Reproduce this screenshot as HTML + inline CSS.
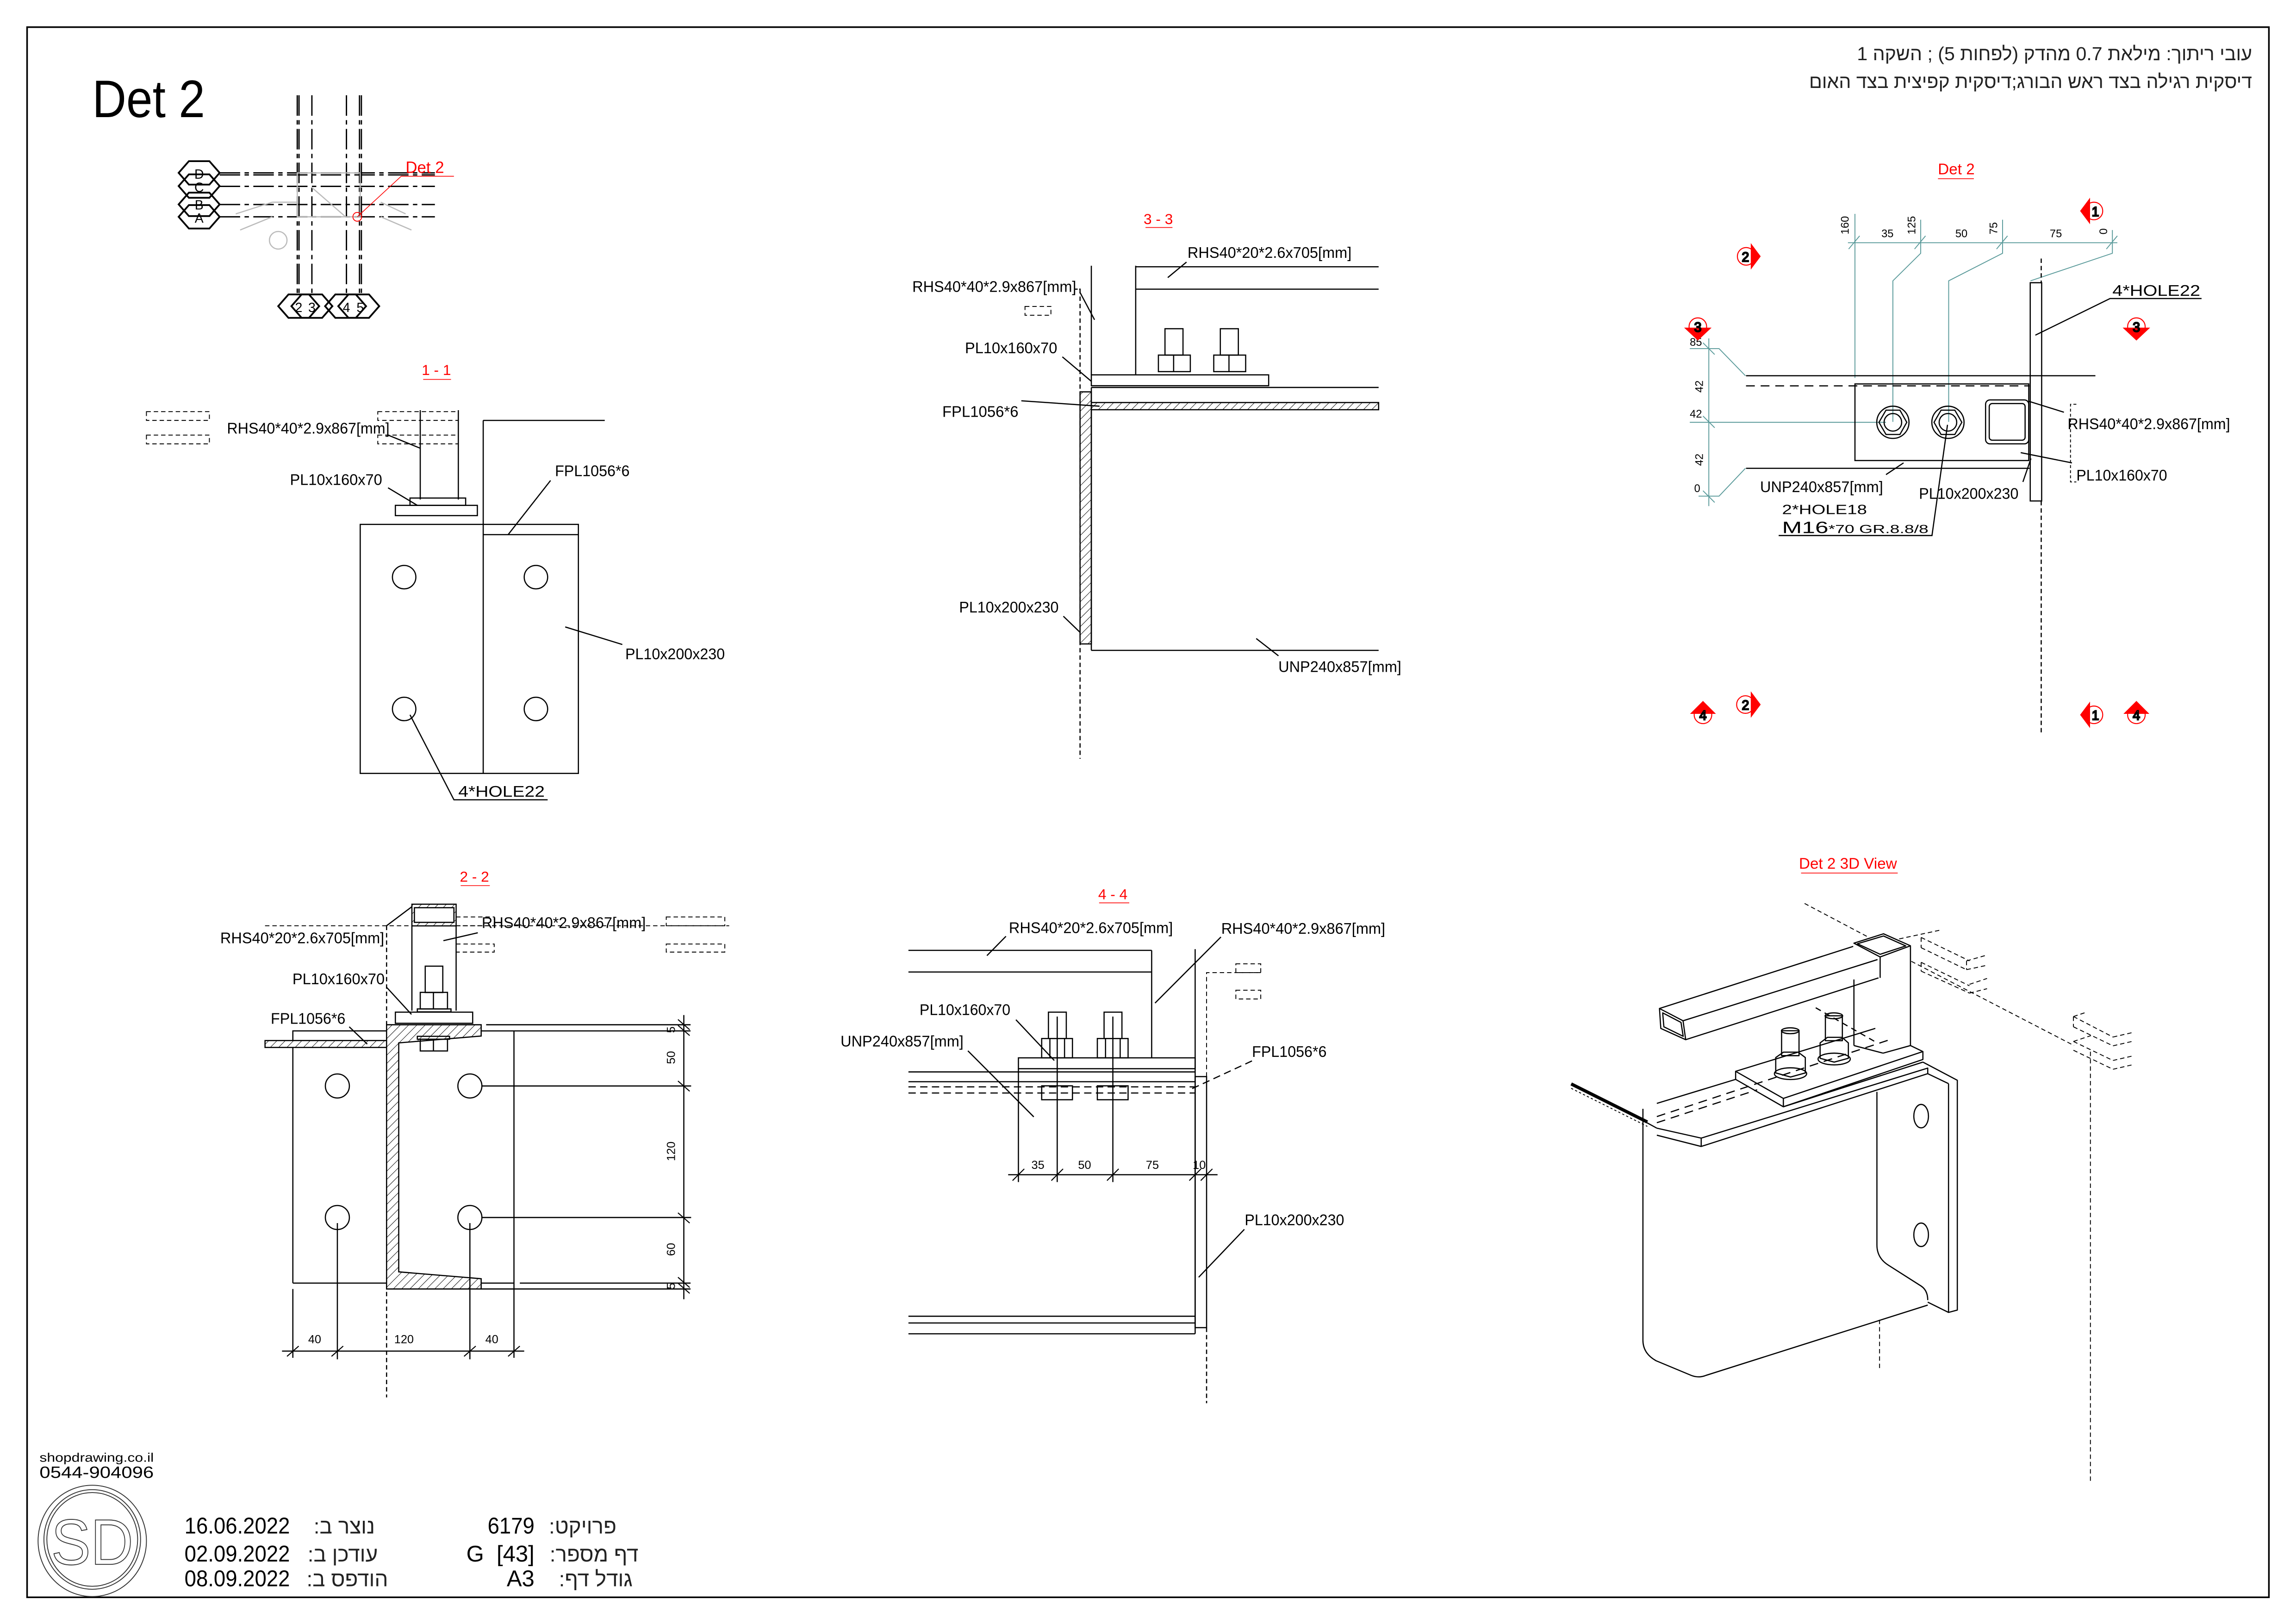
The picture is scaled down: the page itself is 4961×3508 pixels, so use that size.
<!DOCTYPE html>
<html><head><meta charset="utf-8"><style>
html,body{margin:0;padding:0;background:#fff;}
svg{display:block;}
text{font-family:"Liberation Sans","Noto Sans CJK JP",sans-serif;}
</style></head><body>
<svg xmlns="http://www.w3.org/2000/svg" width="4961" height="3508" viewBox="0 0 1568 1108.7">
<defs>
<pattern id="h" patternUnits="userSpaceOnUse" width="4" height="4" patternTransform="rotate(45)">
<rect width="4" height="4" fill="#fff"/><line x1="0" y1="0" x2="0" y2="4" stroke="#000" stroke-width="0.6"/></pattern>
</defs>
<rect width="1568" height="1108.7" fill="#fff"/>
<rect x="18.5" y="18.5" width="1531" height="1072" fill="none" stroke="#000" stroke-width="1.1"/>

<g fill="#000" font-size="10.5">
<text x="63" y="80" font-size="36" textLength="77" lengthAdjust="spacingAndGlyphs">Det 2</text>
<text x="1538" y="41" font-size="13" direction="rtl" text-anchor="start" fill="#222">עובי ריתוך: מילאת 0.7 מהדק (לפחות 5) ; השקה 1</text>
<text x="1538" y="60" font-size="13" direction="rtl" text-anchor="start" fill="#222">דיסקית רגילה בצד ראש הבורג;דיסקית קפיצית בצד האום</text>
</g>

<!-- KEY PLAN -->
<g stroke="#000" stroke-width="0.9" fill="none">
<g stroke-dasharray="14,3,3,3">
<line x1="203" y1="65" x2="203" y2="201"/><line x1="204.2" y1="65" x2="204.2" y2="201"/>
<line x1="213" y1="65" x2="213" y2="201"/><line x1="236.6" y1="65" x2="236.6" y2="201"/>
<line x1="245.5" y1="65" x2="245.5" y2="201"/><line x1="246.8" y1="65" x2="246.8" y2="201"/>
<line x1="150" y1="118" x2="297" y2="118"/><line x1="150" y1="119.4" x2="297" y2="119.4"/>
<line x1="150" y1="127.2" x2="297" y2="127.2"/><line x1="150" y1="139.6" x2="297" y2="139.6"/><line x1="150" y1="148" x2="297" y2="148"/>
</g>
<g stroke="#bbb" stroke-width="0.8">
<rect x="203" y="118" width="43" height="30"/>
<line x1="161" y1="146" x2="186" y2="138"/><line x1="164" y1="157" x2="186" y2="148"/>
<line x1="186" y1="138" x2="203" y2="138"/><line x1="260" y1="138" x2="277" y2="146"/><line x1="260" y1="148" x2="281" y2="157"/>
<line x1="213" y1="128" x2="236" y2="148"/><circle cx="190" cy="164" r="6"/>
</g>
<g stroke-width="1.2">
<polygon points="122,118 129,110 143,110 150,118 143,126 129,126"/>
<polygon points="122,127 129,119 143,119 150,127 143,135 129,135"/>
<polygon points="122,139.5 129,131.5 143,131.5 150,139.5 143,147.5 129,147.5"/>
<polygon points="122,148 129,140 143,140 150,148 143,156 129,156"/>
<polygon points="190,209 197,201 211,201 218,209 211,217 197,217"/>
<polygon points="199,209 206,201 220,201 227,209 220,217 206,217"/>
<polygon points="222,209 229,201 243,201 250,209 243,217 229,217"/>
<polygon points="231,209 238,201 252,201 259,209 252,217 238,217"/>
</g>
<g fill="#000" stroke="none" font-size="9" text-anchor="middle">
<text x="136" y="122">D</text><text x="136" y="131">C</text><text x="136" y="143">B</text><text x="136" y="152">A</text>
<text x="204" y="213">2</text><text x="213" y="213">3</text><text x="236.6" y="213">4</text><text x="246" y="213">5</text>
</g>
<line x1="274" y1="120.3" x2="310" y2="120.3" stroke="red" stroke-width="0.5"/>
<line x1="274" y1="120.3" x2="244" y2="148" stroke="red" stroke-width="0.5"/>
<circle cx="244" cy="148" r="3" stroke="red" stroke-width="0.6"/>
<text x="277" y="118" font-size="11" fill="red" stroke="none">Det 2</text>
</g>

<!-- SECTION 1-1 -->
<g stroke="#000" stroke-width="0.8" fill="none">
<text x="298" y="256" font-size="10" fill="red" stroke="none" text-anchor="middle">1 - 1</text>
<line x1="289" y1="259" x2="308" y2="259" stroke="red" stroke-width="0.5"/>
<g stroke-dasharray="3,2" stroke-width="0.6">
<rect x="100" y="281" width="43" height="6"/><rect x="100" y="297" width="43" height="6"/>
<rect x="258" y="281" width="55" height="6"/><rect x="258" y="297" width="55" height="6"/>
</g>
<line x1="330" y1="287" x2="413" y2="287"/>
<line x1="330" y1="287" x2="330" y2="528"/>
<line x1="287" y1="280" x2="287" y2="341"/><line x1="313" y1="280" x2="313" y2="341"/>
<rect x="280" y="340" width="38" height="5"/>
<rect x="270" y="345" width="56" height="7"/>
<rect x="246" y="358" width="149" height="170"/>
<line x1="330" y1="365" x2="395" y2="365"/>
<circle cx="276" cy="394" r="8"/><circle cx="366" cy="394" r="8"/><circle cx="276" cy="484" r="8"/><circle cx="366" cy="484" r="8"/>
<line x1="265" y1="297" x2="287" y2="306"/>
<line x1="265" y1="333" x2="285" y2="345"/>
<line x1="376" y1="328" x2="347" y2="365"/>
<line x1="425" y1="440" x2="386" y2="428"/>
<polyline points="374,546 310,546 280,488"/>
<g fill="#000" stroke="none" font-size="10.5">
<text x="155" y="296" textLength="111" lengthAdjust="spacingAndGlyphs">RHS40*40*2.9x867[mm]</text>
<text x="198" y="331" textLength="63" lengthAdjust="spacingAndGlyphs">PL10x160x70</text>
<text x="379" y="325" textLength="51" lengthAdjust="spacingAndGlyphs">FPL1056*6</text>
<text x="427" y="450" textLength="68" lengthAdjust="spacingAndGlyphs">PL10x200x230</text>
<text x="313" y="544" textLength="59" lengthAdjust="spacingAndGlyphs">4*HOLE22</text>
</g>
</g>

<!-- SECTION 2-2 -->
<g stroke="#000" stroke-width="0.8" fill="none">
<text x="324" y="602" font-size="10" fill="red" stroke="none" text-anchor="middle">2 - 2</text>
<line x1="314.6" y1="604.6" x2="334.5" y2="604.6" stroke="red" stroke-width="0.5"/>
<line x1="264" y1="632" x2="264" y2="954" stroke-dasharray="3,2"/>
<line x1="181" y1="632" x2="498" y2="632" stroke-dasharray="3,2" stroke-width="0.6"/>
<g stroke-dasharray="3,2" stroke-width="0.6">
<rect x="311.5" y="626" width="26" height="6"/><rect x="311.5" y="644.5" width="26" height="5.5"/>
<rect x="455" y="626" width="40" height="6"/><rect x="455" y="644.5" width="40" height="5.5"/>
</g>
<rect x="281.3" y="617.3" width="30.2" height="14.8" fill="url(#h)"/>
<rect x="283" y="619.7" width="27" height="10" fill="#fff"/>
<line x1="281.3" y1="632" x2="281.3" y2="690"/><line x1="311.5" y1="632" x2="311.5" y2="690"/>
<line x1="264" y1="632" x2="281.3" y2="619"/>
<rect x="290.4" y="659.6" width="12" height="18"/>
<rect x="287" y="677.5" width="18.6" height="11.3"/><line x1="296" y1="677.5" x2="296" y2="688.8"/>
<rect x="285" y="688.8" width="23" height="2"/>
<rect x="270" y="691" width="52.8" height="7.6"/>
<rect x="200" y="703.8" width="64" height="6.6"/>
<rect x="181" y="710.4" width="83" height="4.7" fill="url(#h)"/>
<path d="M264,699.6 L328.6,699.6 L328.6,707.3 L272.3,712 L272.3,868.3 L328.6,873 L328.6,880 L264,880 Z" fill="url(#h)"/>
<rect x="285" y="707.5" width="22" height="2"/><rect x="287" y="709.5" width="18.6" height="8"/><line x1="296" y1="709.5" x2="296" y2="717.5"/>
<line x1="200" y1="715" x2="200" y2="876"/><line x1="200" y1="876" x2="264" y2="876"/>
<line x1="332" y1="699.6" x2="471.6" y2="699.6"/><line x1="328.6" y1="703.8" x2="471.6" y2="703.8"/>
<line x1="355" y1="876" x2="471.6" y2="876"/><line x1="328.6" y1="880" x2="471.6" y2="880"/>
<line x1="328.6" y1="876" x2="351" y2="876"/>
<line x1="351" y1="703.8" x2="351" y2="927"/>
<circle cx="230.4" cy="741.4" r="8.2"/><circle cx="320.9" cy="741.4" r="8.2"/><circle cx="230.4" cy="831.2" r="8.2"/><circle cx="320.9" cy="831.2" r="8.2"/>
<line x1="329" y1="741.4" x2="472" y2="741.4"/><line x1="329" y1="831.2" x2="472" y2="831.2"/>
<line x1="467" y1="693" x2="467" y2="887"/>
<g stroke-width="0.7">
<line x1="463" y1="696" x2="471" y2="703"/><line x1="463" y1="700" x2="471" y2="707"/>
<line x1="463" y1="738" x2="471" y2="745"/><line x1="463" y1="828" x2="471" y2="835"/>
<line x1="463" y1="872" x2="471" y2="879"/><line x1="463" y1="876" x2="471" y2="883"/>
</g>
<line x1="200" y1="880" x2="200" y2="927"/><line x1="230.4" y1="835" x2="230.4" y2="928"/><line x1="320.9" y1="835" x2="320.9" y2="928"/>
<line x1="192.6" y1="922.4" x2="358" y2="922.4"/>
<g stroke-width="0.7">
<line x1="196" y1="926" x2="204" y2="919"/><line x1="226.4" y1="926" x2="234.4" y2="919"/>
<line x1="316.9" y1="926" x2="324.9" y2="919"/><line x1="347" y1="926" x2="355" y2="919"/>
</g>
<line x1="326.3" y1="636.8" x2="302.8" y2="642.2"/>
<line x1="264" y1="674" x2="281" y2="692.5"/>
<line x1="238.5" y1="701" x2="250.8" y2="712.8"/>
<g fill="#000" stroke="none" font-size="10.5">
<text x="150.4" y="643.9" textLength="112" lengthAdjust="spacingAndGlyphs">RHS40*20*2.6x705[mm]</text>
<text x="329" y="633.5" textLength="112" lengthAdjust="spacingAndGlyphs">RHS40*40*2.9x867[mm]</text>
<text x="199.7" y="672" textLength="63" lengthAdjust="spacingAndGlyphs">PL10x160x70</text>
<text x="184.9" y="699" textLength="51" lengthAdjust="spacingAndGlyphs">FPL1056*6</text>
<g font-size="8">
<text x="214.9" y="917" text-anchor="middle">40</text><text x="275.9" y="917" text-anchor="middle">120</text><text x="335.9" y="917" text-anchor="middle">40</text>
<text transform="translate(461,703) rotate(-90)" text-anchor="middle">5</text>
<text transform="translate(461,722) rotate(-90)" text-anchor="middle">50</text>
<text transform="translate(461,786) rotate(-90)" text-anchor="middle">120</text>
<text transform="translate(461,853) rotate(-90)" text-anchor="middle">60</text>
<text transform="translate(461,878) rotate(-90)" text-anchor="middle">5</text>
</g>
</g>
</g>

<!-- SECTION 3-3 -->
<g stroke="#000" stroke-width="0.8" fill="none">
<text x="791" y="153" font-size="10" fill="red" stroke="none" text-anchor="middle">3 - 3</text>
<line x1="782.3" y1="155.3" x2="800.7" y2="155.3" stroke="red" stroke-width="0.5"/>
<line x1="737.6" y1="197.4" x2="737.6" y2="518" stroke-dasharray="3,2"/>
<line x1="734" y1="197.4" x2="738" y2="197.4" stroke-dasharray="2,1"/>
<rect x="700" y="209.2" width="17.7" height="6" stroke-dasharray="3,2" stroke-width="0.6"/>
<line x1="745.3" y1="181.4" x2="745.3" y2="255.9"/><line x1="775.6" y1="181.4" x2="775.6" y2="255.9"/>
<line x1="775.6" y1="182.1" x2="941.5" y2="182.1"/><line x1="775.6" y1="197.4" x2="941.5" y2="197.4"/>
<rect x="795.6" y="224.4" width="12.3" height="18"/><rect x="791.1" y="242.4" width="21.8" height="11.3"/><line x1="801.5" y1="242.4" x2="801.5" y2="253.7"/>
<rect x="833.4" y="224.4" width="12.3" height="18"/><rect x="828.9" y="242.4" width="21.8" height="11.3"/><line x1="839.3" y1="242.4" x2="839.3" y2="253.7"/>
<rect x="745.3" y="255.9" width="121.1" height="7.4"/>
<line x1="745.3" y1="264.5" x2="941.5" y2="264.5"/>
<rect x="745.3" y="274.8" width="196.2" height="4.9" fill="url(#h)"/>
<rect x="737.6" y="267.5" width="7.7" height="172.1" fill="url(#h)"/>
<line x1="745.3" y1="264.5" x2="745.3" y2="444"/><line x1="745.3" y1="444" x2="941.5" y2="444"/>
<line x1="810.3" y1="178.9" x2="797.5" y2="189.5"/>
<line x1="737.4" y1="199.3" x2="747.5" y2="218.3"/>
<line x1="725.5" y1="243.6" x2="745.3" y2="260.3"/>
<line x1="697.5" y1="273.6" x2="750.9" y2="277.3"/>
<line x1="726.2" y1="420.7" x2="737.6" y2="431.7"/>
<line x1="873.1" y1="447.7" x2="857.9" y2="435.9"/>
<g fill="#000" stroke="none" font-size="10.5">
<text x="811" y="176" textLength="112" lengthAdjust="spacingAndGlyphs">RHS40*20*2.6x705[mm]</text>
<text x="623" y="199.3" textLength="112" lengthAdjust="spacingAndGlyphs">RHS40*40*2.9x867[mm]</text>
<text x="659" y="241.2" textLength="63" lengthAdjust="spacingAndGlyphs">PL10x160x70</text>
<text x="643.5" y="284.6" textLength="52" lengthAdjust="spacingAndGlyphs">FPL1056*6</text>
<text x="655" y="418.2" textLength="68" lengthAdjust="spacingAndGlyphs">PL10x200x230</text>
<text x="873" y="458.8" textLength="84" lengthAdjust="spacingAndGlyphs">UNP240x857[mm]</text>
</g>
</g>

<!-- SECTION 4-4 -->
<g stroke="#000" stroke-width="0.8" fill="none">
<text x="760" y="614" font-size="10" fill="red" stroke="none" text-anchor="middle">4 - 4</text>
<line x1="750.6" y1="616.4" x2="771.2" y2="616.4" stroke="red" stroke-width="0.5"/>
<line x1="620.4" y1="648.8" x2="786.5" y2="648.8"/><line x1="620.4" y1="663.6" x2="786.5" y2="663.6"/>
<line x1="786.5" y1="648.8" x2="786.5" y2="722.2"/>
<line x1="816.2" y1="648" x2="816.2" y2="910.6"/>
<rect x="816.2" y="735" width="7.8" height="171.4"/>
<polyline points="824,735 824,664 861,664" stroke-dasharray="3,2" stroke-width="0.6"/>
<line x1="824" y1="906.4" x2="824" y2="958" stroke-dasharray="3,2"/>
<rect x="844" y="658" width="17" height="6" stroke-dasharray="3,2" stroke-width="0.6"/>
<rect x="844" y="676" width="17" height="6" stroke-dasharray="3,2" stroke-width="0.6"/>
<rect x="695.5" y="722.2" width="120.7" height="7.4"/>
<line x1="620.4" y1="731.8" x2="816.2" y2="731.8"/><line x1="620.4" y1="738.5" x2="816.2" y2="738.5"/>
<line x1="620.4" y1="742" x2="816.2" y2="742" stroke-dasharray="5,3"/><line x1="620.4" y1="746.2" x2="816.2" y2="746.2" stroke-dasharray="5,3"/>
<line x1="695.5" y1="729.6" x2="695.5" y2="807"/>
<line x1="722" y1="694" x2="722" y2="807"/><line x1="760" y1="694" x2="760" y2="807"/>
<rect x="716" y="691" width="12.2" height="18"/><rect x="711.4" y="709" width="21" height="13.2"/><line x1="717" y1="709" x2="717" y2="722"/><line x1="727" y1="709" x2="727" y2="722"/>
<rect x="754" y="691" width="12.2" height="18"/><rect x="749.4" y="709" width="21" height="13.2"/><line x1="755" y1="709" x2="755" y2="722"/><line x1="765" y1="709" x2="765" y2="722"/>
<rect x="711.4" y="741.3" width="21" height="9.5"/><rect x="749.4" y="741.3" width="21" height="9.5"/>
<line x1="688.5" y1="802" x2="831.5" y2="802"/>
<g stroke-width="0.7">
<line x1="691.5" y1="806" x2="699.5" y2="798"/><line x1="718" y1="806" x2="726" y2="798"/><line x1="756" y1="806" x2="764" y2="798"/>
<line x1="812.2" y1="806" x2="820.2" y2="798"/><line x1="820" y1="806" x2="828" y2="798"/>
</g>
<line x1="620.4" y1="898.6" x2="816.2" y2="898.6"/><line x1="620.4" y1="903.2" x2="816.2" y2="903.2"/><line x1="620.4" y1="910.6" x2="816.2" y2="910.6"/>
<line x1="687" y1="639.2" x2="674" y2="652.4"/>
<line x1="833.8" y1="639.7" x2="788.8" y2="684.8"/>
<line x1="693.8" y1="696.2" x2="720" y2="724"/>
<line x1="661" y1="717.4" x2="706" y2="762.5"/>
<line x1="855" y1="724.3" x2="811.6" y2="744.4" stroke-dasharray="5,3"/>
<line x1="849.8" y1="839.3" x2="818.6" y2="872"/>
<g fill="#000" stroke="none" font-size="10.5">
<text x="689" y="637" textLength="112" lengthAdjust="spacingAndGlyphs">RHS40*20*2.6x705[mm]</text>
<text x="834" y="637.5" textLength="112" lengthAdjust="spacingAndGlyphs">RHS40*40*2.9x867[mm]</text>
<text x="628" y="693" textLength="62" lengthAdjust="spacingAndGlyphs">PL10x160x70</text>
<text x="574" y="714.5" textLength="84" lengthAdjust="spacingAndGlyphs">UNP240x857[mm]</text>
<text x="855" y="721.5" textLength="51" lengthAdjust="spacingAndGlyphs">FPL1056*6</text>
<text x="850" y="836.5" textLength="68" lengthAdjust="spacingAndGlyphs">PL10x200x230</text>
<g font-size="8" text-anchor="middle">
<text x="708.8" y="798">35</text><text x="740.7" y="798">50</text><text x="787" y="798">75</text><text x="819" y="798">10</text>
</g>
</g>
</g>

<!-- DET 2 PLAN -->
<g stroke="#000" stroke-width="0.8" fill="none">
<text x="1336" y="119" font-size="10.5" fill="red" stroke="none" text-anchor="middle">Det 2</text>
<line x1="1323.5" y1="122" x2="1348" y2="122" stroke="red" stroke-width="0.5"/>
<g stroke="#5a9a9a" stroke-width="0.6">
<line x1="1262" y1="165.7" x2="1446" y2="165.7"/>
<line x1="1262.5" y1="170" x2="1270" y2="161"/><line x1="1307.5" y1="170" x2="1315" y2="161"/><line x1="1363.5" y1="170" x2="1371" y2="161"/><line x1="1438.5" y1="170" x2="1446" y2="161"/>
<line x1="1266.8" y1="146" x2="1266.8" y2="258"/>
<polyline points="1311.7,150 1311.7,172.9 1292.7,191.7 1292.7,288"/>
<polyline points="1367.6,150 1367.6,172.9 1330.8,191.7 1330.8,288"/>
<polyline points="1442.6,157 1442.6,172.9 1386.7,191.7"/>
<line x1="1167" y1="231" x2="1167" y2="345.5"/>
<polyline points="1154,238 1174,238 1192,256.5"/>
<line x1="1154" y1="288.3" x2="1288" y2="288.3"/>
<polyline points="1160,338.7 1174,338.7 1192,319.7"/>
<line x1="1163" y1="234" x2="1171" y2="242"/><line x1="1163" y1="284" x2="1171" y2="292"/><line x1="1163" y1="335" x2="1171" y2="343"/>
</g>
<rect x="1386.5" y="193" width="7.8" height="149"/>
<line x1="1394" y1="176.5" x2="1394" y2="193" stroke-dasharray="3,2"/>
<line x1="1394" y1="342" x2="1394" y2="500" stroke-dasharray="3,2"/>
<line x1="1192.4" y1="256.5" x2="1431" y2="256.5"/>
<line x1="1192.4" y1="263.4" x2="1386" y2="263.4" stroke-dasharray="6,4"/>
<rect x="1266.8" y="262.1" width="118.7" height="52.3"/>
<line x1="1192.4" y1="319.7" x2="1386" y2="319.7"/>
<circle cx="1292.7" cy="288.3" r="11"/><polygon points="1283.2,288.3 1288,280 1297.5,280 1302.2,288.3 1297.5,296.6 1288,296.6"/><circle cx="1292.7" cy="288.3" r="6"/>
<circle cx="1330.3" cy="288.3" r="11"/><polygon points="1320.8,288.3 1325.6,280 1335,280 1339.8,288.3 1335,296.6 1325.6,296.6"/><circle cx="1330.3" cy="288.3" r="6"/>
<rect x="1356" y="273" width="29.5" height="30" rx="3"/><rect x="1358.5" y="275.5" width="24.5" height="25" rx="2"/>
<polyline points="1503.5,203.8 1441,203.8 1390,228.8"/>
<line x1="1385.4" y1="273.9" x2="1409.5" y2="281.4"/>
<polyline points="1418,276 1414,276 1414,329 1418,329" stroke-dasharray="2,1.5" stroke-width="0.6"/>
<line x1="1380" y1="309" x2="1415" y2="316"/>
<line x1="1381.5" y1="329" x2="1387" y2="313"/>
<line x1="1288" y1="324" x2="1300" y2="316"/>
<polyline points="1214.7,365.6 1319.4,365.6 1330,290"/>
<g fill="#000" stroke="none" font-size="10.5">
<text x="1442.6" y="202" textLength="60" lengthAdjust="spacingAndGlyphs">4*HOLE22</text>
<text x="1412" y="293" textLength="111" lengthAdjust="spacingAndGlyphs">RHS40*40*2.9x867[mm]</text>
<text x="1418" y="328" textLength="62" lengthAdjust="spacingAndGlyphs">PL10x160x70</text>
<text x="1310.5" y="340.5" textLength="68" lengthAdjust="spacingAndGlyphs">PL10x200x230</text>
<text x="1202" y="336" textLength="84" lengthAdjust="spacingAndGlyphs">UNP240x857[mm]</text>
<text x="1217" y="351" font-size="9" textLength="58" lengthAdjust="spacingAndGlyphs">2*HOLE18</text>
<text x="1217" y="364" font-size="11" textLength="100" lengthAdjust="spacingAndGlyphs">M16<tspan font-size="8">*70 GR.8.8/8</tspan></text>
<g font-size="7.5">
<text transform="translate(1262.5,160) rotate(-90)">160</text>
<text x="1289" y="162" text-anchor="middle">35</text>
<text transform="translate(1308,160) rotate(-90)">125</text>
<text x="1339.5" y="162" text-anchor="middle">50</text>
<text transform="translate(1364,160) rotate(-90)">75</text>
<text x="1404" y="162" text-anchor="middle">75</text>
<text transform="translate(1439,160) rotate(-90)">0</text>
<text x="1154" y="236">85</text>
<text transform="translate(1163,268) rotate(-90)">42</text>
<text x="1154" y="285">42</text>
<text transform="translate(1163,318) rotate(-90)">42</text>
<text x="1157" y="336">0</text>
</g>
</g>
<!-- red markers -->
<g stroke="red" stroke-width="0.7" fill="none">
<circle cx="1430" cy="144" r="6"/><polygon points="1421,144 1427,136 1427,152" fill="red"/>
<circle cx="1192.5" cy="175" r="6"/><polygon points="1202,175 1196,167 1196,183" fill="red"/>
<circle cx="1159.5" cy="223" r="6"/><polygon points="1159.5,232 1151,224 1168,224" fill="red"/>
<circle cx="1459" cy="223" r="6"/><polygon points="1459,232 1450.5,224 1467.5,224" fill="red"/>
<circle cx="1163" cy="488" r="6"/><polygon points="1163,479 1155,487 1171,487" fill="red"/>
<circle cx="1192" cy="481" r="6"/><polygon points="1202,481 1196,473 1196,489" fill="red"/>
<circle cx="1430" cy="488" r="6"/><polygon points="1421,488 1427,480 1427,496" fill="red"/>
<circle cx="1459" cy="488" r="6"/><polygon points="1459,479 1451,487 1467,487" fill="red"/>
</g>
<g fill="red" font-size="9" text-anchor="middle">
<text x="1431" y="147.5">1</text><text x="1192" y="178.5">2</text><text x="1159.5" y="226.5">3</text><text x="1459" y="226.5">3</text>
<text x="1163" y="491.5">4</text><text x="1192" y="484.5">2</text><text x="1431" y="491.5">1</text><text x="1459" y="491.5">4</text>
</g>
</g>

<!-- 3D VIEW -->
<g stroke="#000" stroke-width="0.8" fill="none" stroke-linejoin="round">
<text x="1262" y="593" font-size="10.5" fill="red" stroke="none" text-anchor="middle">Det 2 3D View</text>
<line x1="1230" y1="596" x2="1296" y2="596" stroke="red" stroke-width="0.5"/>
<g stroke-dasharray="3,2" stroke-width="0.6">
<line x1="1232.4" y1="616.8" x2="1275" y2="639.3"/>
<line x1="1305.3" y1="656.3" x2="1416.4" y2="713.8"/>
<line x1="1427.6" y1="718" x2="1427.6" y2="1012"/>
<line x1="1283.6" y1="901" x2="1283.6" y2="935"/>
<line x1="1297" y1="641" x2="1325" y2="635"/><line x1="1312" y1="640" x2="1345" y2="656"/><line x1="1312" y1="647" x2="1343" y2="662"/>
<line x1="1343" y1="656" x2="1357" y2="652"/><line x1="1343" y1="662" x2="1357" y2="659"/>
<line x1="1312" y1="657" x2="1345" y2="673"/><line x1="1312" y1="663" x2="1345" y2="678"/><line x1="1345" y1="672" x2="1357" y2="668"/><line x1="1345" y1="678" x2="1357" y2="675"/>
<line x1="1312" y1="640" x2="1312" y2="647"/><line x1="1312" y1="657" x2="1312" y2="663"/><line x1="1343" y1="656" x2="1343" y2="662"/>
<line x1="1416" y1="694" x2="1443" y2="708"/><line x1="1416" y1="701" x2="1443" y2="714"/><line x1="1416" y1="694" x2="1416" y2="701"/><line x1="1416" y1="711" x2="1443" y2="724"/><line x1="1416" y1="717" x2="1443" y2="730"/>
<line x1="1416" y1="694" x2="1425" y2="691"/><line x1="1443" y1="708" x2="1456" y2="705"/><line x1="1443" y1="714" x2="1456" y2="711"/><line x1="1443" y1="724" x2="1456" y2="721"/><line x1="1443" y1="730" x2="1456" y2="727"/>
<line x1="1416" y1="711" x2="1428" y2="707"/>
</g>
<!-- tube -->
<path d="M1133.3,688.5 L1265.6,646.1"/>
<path d="M1149.4,696.9 L1282.2,655.1"/>
<path d="M1151.2,709.8 L1282.9,667.6"/>
<path d="M1133.3,688.5 L1149.4,696.9 L1151.2,709.8 L1134.2,702.1 Z"/>
<path d="M1135.5,691.5 L1148,698 L1149.5,707.5 L1136.3,701 Z"/>
<!-- post -->
<path d="M1266.1,643.9 L1286.3,637.5 L1304.7,645.7 L1284,653.3 Z"/>
<path d="M1268.5,644.3 L1286.3,639 L1301.5,645.8 L1284,651.5 Z"/>
<line x1="1266.1" y1="668.7" x2="1266.1" y2="713.8"/><line x1="1304.7" y1="646" x2="1304.7" y2="713.8"/><line x1="1284" y1="653.3" x2="1284" y2="667.6"/>
<line x1="1266.1" y1="713.8" x2="1286" y2="719"/><line x1="1286" y1="719" x2="1304.7" y2="713.8"/>
<!-- top plate -->
<path d="M1185.3,731.4 L1280.7,702.1"/><path d="M1304.7,713.8 L1313.2,717.9 L1217.9,749.9 L1185.3,731.4 L1185.3,736.9 L1217.9,755.6 L1313.2,723.3 L1313.2,717.9"/>
<line x1="1217.9" y1="749.9" x2="1217.9" y2="755.6"/>
<line x1="1240" y1="688" x2="1282" y2="712" stroke-dasharray="4,3"/>
<!-- bolts -->
<rect x="1216.7" y="703.7" width="11.9" height="17"/><ellipse cx="1222.6" cy="703.7" rx="6" ry="2"/>
<polygon points="1212.7,722 1218,718.3 1228,718.3 1232.9,722 1232.9,732.5 1222.8,735.3 1212.7,732.5"/>
<ellipse cx="1222.8" cy="733" rx="11" ry="4"/>
<rect x="1246.6" y="693.5" width="11.6" height="17"/><ellipse cx="1252.4" cy="693.5" rx="6" ry="2"/>
<polygon points="1243,712 1248,708.2 1258,708.2 1262.3,712 1262.3,722.5 1252.6,725.1 1243,722.5"/>
<ellipse cx="1252.6" cy="723" rx="11" ry="4"/>
<!-- FPL flange -->
<path d="M1131.5,753.3 L1185.3,736.9"/><path d="M1217.9,755.6 L1313.2,725.1"/>
<path d="M1131.5,770.2 L1161.8,777 L1316.5,729.2 L1316.5,733 L1161.8,782.7 L1131.5,775"/>
<line x1="1161.8" y1="777" x2="1161.8" y2="782.7"/>
<line x1="1131.5" y1="762.3" x2="1290" y2="710" stroke-dasharray="6,4"/>
<line x1="1131.5" y1="766.5" x2="1200" y2="744" stroke-dasharray="6,4"/>
<!-- web plate -->
<path d="M1281.8,745.4 L1281.8,850 Q1281.8,859 1290,864 L1312,878 Q1316.5,881 1316.5,887.6"/>
<path d="M1313.2,725.1 L1336.7,737.5 L1336.7,894.4 L1330.7,896 L1316.5,889"/>
<line x1="1330.7" y1="739.8" x2="1330.7" y2="896"/>
<line x1="1316.5" y1="733" x2="1330.7" y2="739.8"/>
<ellipse cx="1312" cy="762" rx="5" ry="8"/><ellipse cx="1312" cy="843" rx="5" ry="8"/>
<!-- channel -->
<path d="M1122,757 L1122,915 Q1122,924 1131,929 L1155,939 Q1160,941 1165,939 L1316.5,891"/>
<path d="M1131.5,770.2 L1122,765"/>
<!-- cable -->
<path d="M1073,740 L1125,766" stroke-width="2.2"/>
<path d="M1073,743 L1125,769" stroke-width="0.6" stroke-dasharray="1.5,1.5"/>
</g>

<!-- TITLE BLOCK -->
<g fill="#000">
<text x="27" y="998" font-size="8.5" textLength="78" lengthAdjust="spacingAndGlyphs">shopdrawing.co.il</text>
<text x="27" y="1009" font-size="11" textLength="78" lengthAdjust="spacingAndGlyphs">0544-904096</text>
<g fill="none" stroke="#333" stroke-width="0.6">
<ellipse cx="63" cy="1052" rx="37" ry="38"/><ellipse cx="63" cy="1051" rx="33" ry="34"/><ellipse cx="63" cy="1051" rx="31" ry="32"/>
</g>
<text x="63" y="1068" font-size="44" font-family="Liberation Serif" fill="#fff" stroke="#333" stroke-width="0.6" text-anchor="middle" textLength="56" lengthAdjust="spacingAndGlyphs">SD</text>
<g font-size="15.5">
<text x="126" y="1047" textLength="72" lengthAdjust="spacingAndGlyphs">16.06.2022</text>
<text x="126" y="1066" textLength="72" lengthAdjust="spacingAndGlyphs">02.09.2022</text>
<text x="126" y="1083" textLength="72" lengthAdjust="spacingAndGlyphs">08.09.2022</text>
<text x="365" y="1047" text-anchor="end" textLength="32" lengthAdjust="spacingAndGlyphs">6179</text>
<text x="365" y="1066" text-anchor="end" xml:space="preserve">G  [43]</text>
<text x="365" y="1083" text-anchor="end">A3</text>
</g>
<g font-size="14.5" fill="#222">
<text x="256" y="1047" direction="rtl">נוצר ב:</text>
<text x="258" y="1066" direction="rtl">עודכן ב:</text>
<text x="265" y="1083" direction="rtl">הודפס ב:</text>
<text x="421" y="1047" direction="rtl">פרויקט:</text>
<text x="436" y="1066" direction="rtl">דף מספר:</text>
<text x="432" y="1083" direction="rtl">גודל דף:</text>
</g>
</g>
</svg>
</body></html>
